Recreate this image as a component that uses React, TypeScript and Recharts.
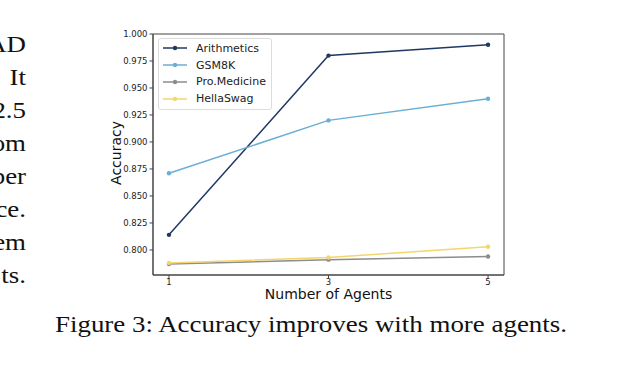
import React from "react";
import { LineChart, Line, XAxis, YAxis, Legend, ReferenceArea } from "recharts";

const agents = [1, 3, 5];
const arithmetics = [0.814, 0.98, 0.99];
const gsm8k = [0.871, 0.92, 0.94];
const proMedicine = [0.787, 0.791, 0.794];
const hellaSwag = [0.788, 0.793, 0.803];

const yTicks = [0.8, 0.825, 0.85, 0.875, 0.9, 0.925, 0.95, 0.975, 1.0];
const xTicks = [1, 3, 5];

const seriesNames = ["Arithmetics", "GSM8K", "Pro.Medicine", "HellaSwag"];
const seriesColors = ["#1f3864", "#6aaed6", "#8c8c8c", "#f5d56e"];
const seriesValues = [arithmetics, gsm8k, proMedicine, hellaSwag];
const seriesKeys = ["arithmetics", "gsm8k", "proMedicine", "hellaSwag"];

const sideText = ["AD", "It", "2.5", "om", "ber", "ce.", "em", "ts."];
const caption = "Figure 3: Accuracy improves with more agents.";
const xLabel = "Number of Agents";
const yLabel = "Accuracy";

const data = agents.map((a, i) => {
  const row: Record<string, number> = { agents: a };
  seriesKeys.forEach((k, s) => {
    row[k] = seriesValues[s][i];
  });
  return row;
});

const FONT = "'DejaVu Sans', sans-serif";
const SERIF = "'Liberation Serif'";
const STRETCH = 1.12;

const LegendBox = (props: any) => {
  const payload = [...(props.payload || [])].sort(
    (a: any, b: any) => seriesNames.indexOf(a.value) - seriesNames.indexOf(b.value)
  );
  return (
    <div
      style={{
        border: "1px solid #dcdcdc",
        borderRadius: 3,
        background: "rgba(255,255,255,0.8)",
        padding: "1px 6px 2px 4px",
        fontFamily: FONT,
        fontSize: 11,
        color: "#222",
        width: 102,
      }}
    >
      {payload.map((p: any) => (
        <div key={p.value} style={{ display: "flex", alignItems: "center", height: 16.8 }}>
          <svg width={24} height={8} style={{ marginRight: 9, flex: "none" }}>
            <line x1={0} y1={4} x2={24} y2={4} stroke={p.color} strokeWidth={1.5} />
            <circle cx={12} cy={4} r={2.2} fill={p.color} />
          </svg>
          <span style={{ whiteSpace: "nowrap" }}>{p.value}</span>
        </div>
      ))}
    </div>
  );
};

export default function App() {
  return (
    <div style={{ position: "absolute", left: 0, top: 0, width: 622, height: 370, background: "#fff" }}>
      <LineChart
        width={622}
        height={370}
        data={data}
        margin={{ top: 34, right: 118, bottom: 75, left: 113 }}
      >
        <XAxis
          dataKey="agents"
          type="number"
          domain={[0.8, 5.2]}
          ticks={xTicks}
          allowDataOverflow
          height={20}
          tickSize={3.5}
          tickMargin={0.5}
          axisLine={{ stroke: "#444" }}
          tickLine={{ stroke: "#444" }}
          tick={{ fontSize: 8.5, fill: "#222", fontFamily: FONT }}
        />
        <YAxis
          type="number"
          domain={[0.7768, 1.0]}
          ticks={yTicks}
          allowDataOverflow
          width={40}
          tickSize={3.5}
          tickMargin={2}
          tickFormatter={(v: number) => v.toFixed(3)}
          axisLine={{ stroke: "#444" }}
          tickLine={{ stroke: "#444" }}
          tick={{ fontSize: 8.5, fill: "#222", fontFamily: FONT }}
        />
        <ReferenceArea
          x1={0.8}
          x2={5.2}
          y1={0.7768}
          y2={1.0}
          fill="none"
          fillOpacity={0}
          stroke="#444"
          strokeWidth={1}
          ifOverflow="visible"
        />
        {seriesKeys.map((k, i) => (
          <Line
            key={k}
            dataKey={k}
            name={seriesNames[i]}
            stroke={seriesColors[i]}
            strokeWidth={1.5}
            dot={{ r: 2.2, fill: seriesColors[i], stroke: seriesColors[i], strokeWidth: 0 }}
            activeDot={false}
            isAnimationActive={false}
          />
        ))}
        <Legend
          layout="vertical"
          align="center"
          verticalAlign="middle"
          content={<LegendBox />}
          wrapperStyle={{ left: 158, top: 38, width: 114 }}
        />
      </LineChart>
      <svg
        width={622}
        height={370}
        style={{ position: "absolute", left: 0, top: 0, pointerEvents: "none" }}
      >
        <text
          x={328.5}
          y={299}
          textAnchor="middle"
          fontFamily={FONT}
          fontSize={14}
          fill="#111"
        >
          {xLabel}
        </text>
        <text
          transform="translate(121,153) rotate(-90)"
          x={0}
          y={0}
          textAnchor="middle"
          fontFamily={FONT}
          fontSize={14}
          fill="#111"
        >
          {yLabel}
        </text>
        <g transform={`scale(${STRETCH},1)`}>
          {sideText.map((t, i) => (
            <text
              key={i}
              x={26 / STRETCH}
              y={52 + i * 33}
              textAnchor="end"
              style={{ fontFamily: SERIF, fontSize: 24 }}
              fill="#111"
            >
              {t}
            </text>
          ))}
        </g>
        <text
          x={55}
          y={332}
          style={{ fontFamily: SERIF, fontSize: 24 }}
          textLength={512}
          lengthAdjust="spacingAndGlyphs"
          fill="#111"
        >
          {caption}
        </text>
      </svg>
    </div>
  );
}
